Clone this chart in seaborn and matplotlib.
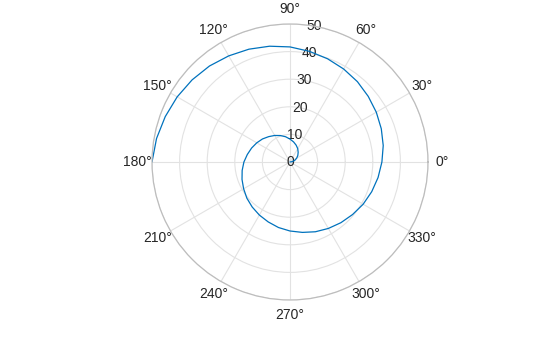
import numpy as np
import matplotlib
matplotlib.use("Agg")
import matplotlib.pyplot as plt
import seaborn as sns
import pandas as pd

sns.set_style("white")
plt.rcParams['font.family'] = ['Liberation Sans', 'DejaVu Sans']

# spiral: angle (degrees) and radius
theta_deg = [0, 10, 20, 30, 40, 50, 60, 70, 80, 90, 100, 110, 120, 130, 140, 150,
             160, 170, 180, 190, 200, 210, 220, 230, 240, 250, 260, 270, 280, 290,
             300, 310, 320, 330, 340, 350, 360, 370, 380, 390, 400, 410, 420, 430,
             440, 450, 460, 470, 480, 490, 500, 510, 520, 530, 540]
r_vals = [0.0, 0.9, 1.9, 2.8, 3.7, 4.6, 5.6, 6.5, 7.4, 8.3, 9.3, 10.2, 11.1, 12.0,
          13.0, 13.9, 14.8, 15.7, 16.7, 17.6, 18.5, 19.4, 20.4, 21.3, 22.2, 23.1,
          24.1, 25.0, 25.9, 26.9, 27.8, 28.7, 29.6, 30.6, 31.5, 32.4, 33.3, 34.3,
          35.2, 36.1, 37.0, 38.0, 38.9, 39.8, 40.7, 41.7, 42.6, 43.5, 44.4, 45.4,
          46.3, 47.2, 48.1, 49.1, 50.0]
r_ticks = [0, 10, 20, 30, 40, 50]
theta_ticks = [0, 30, 60, 90, 120, 150, 180, 210, 240, 270, 300, 330]
theta_labels = [f"{t}°" for t in theta_ticks]

df = pd.DataFrame({"theta": np.deg2rad(theta_deg), "r": r_vals})

fig = plt.figure(figsize=(5.6, 3.37), dpi=100)
ax = fig.add_axes([(290 - 138) / 560, (337 - 300) / 337, 276 / 560, 276 / 337],
                  projection="polar")
sns.lineplot(data=df, x="theta", y="r", ax=ax, color="#0072BD", linewidth=0.9,
             sort=False, estimator=None)
ax.set_xlabel("")
ax.set_ylabel("")
ax.set_ylim(0, 50)
ax.set_yticks(r_ticks)
ax.set_yticklabels([str(v) for v in r_ticks])
ax.set_rlabel_position(80)
ax.set_xticks(np.deg2rad(theta_ticks))
ax.set_xticklabels(theta_labels)
ax.grid(True, color="#e2e2e2", linewidth=0.8)
ax.spines["polar"].set_color("#bdbdbd")
ax.spines["polar"].set_linewidth(0.9)
ax.tick_params(axis="x", pad=0, labelsize=10, colors="#262626")
ax.tick_params(axis="y", labelsize=10, colors="#262626", pad=0)
for lab in ax.get_yticklabels():
    lab.set_ha("center")
    lab.set_va("center")

fig.savefig("out.png", dpi=100)
